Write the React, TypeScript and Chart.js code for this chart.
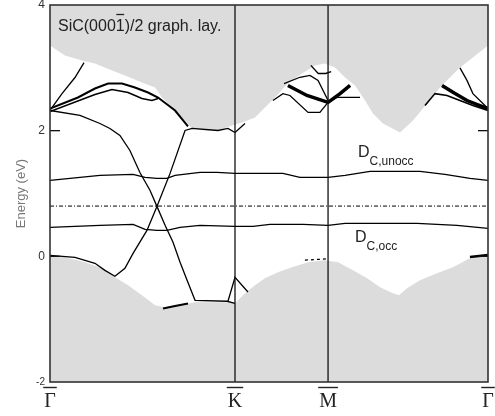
import React, { useEffect, useRef } from 'react';
import { Chart, registerables } from 'chart.js';
Chart.register(...registerables);

// k-path positions (Γ, K, M, Γ) and labels
const pointLabels = ['Γ', 'K', 'M', 'Γ'];
const pointPos = [0, 1.0, 1.503, 2.3676];
const yTicks = [4, 2, 0, -2];
const fermiLevel = 0.8;

// projected bulk bands (grey)
const upperEdge: [number, number][] = [
  [0, 3.355], [0.081, 3.196], [0.173, 3.116], [0.243, 3.068], [0.335, 2.957], [0.405, 2.878],
  [0.497, 2.766], [0.568, 2.687], [0.605, 2.528], [0.676, 2.321], [0.73, 2.162], [0.768, 2.035],
  [0.838, 2.003], [0.908, 2.003], [0.984, 2.083], [1.038, 2.13], [1.108, 2.21], [1.162, 2.369],
  [1.216, 2.528], [1.286, 2.75], [1.362, 2.909], [1.432, 3.037], [1.486, 3.068], [1.541, 3.005],
  [1.595, 2.846], [1.649, 2.719], [1.703, 2.48], [1.746, 2.273], [1.8, 2.114], [1.892, 1.971],
  [1.962, 2.162], [2.016, 2.353], [2.108, 2.687], [2.216, 3.005], [2.286, 3.164], [2.3676, 3.355],
];
const lowerEdge: [number, number][] = [
  [0, 0.016], [0.081, -0.016], [0.189, -0.095], [0.281, -0.191], [0.351, -0.334], [0.422, -0.461],
  [0.497, -0.62], [0.568, -0.779], [0.622, -0.811], [0.692, -0.779], [0.784, -0.731], [0.946, -0.731],
  [1.0, -0.747], [1.054, -0.588], [1.108, -0.461], [1.162, -0.35], [1.232, -0.254], [1.308, -0.175],
  [1.395, -0.095], [1.486, -0.064], [1.557, -0.095], [1.638, -0.223], [1.714, -0.35], [1.784, -0.493],
  [1.854, -0.588], [1.886, -0.62], [1.93, -0.509], [2.0, -0.382], [2.092, -0.27], [2.178, -0.175],
  [2.27, -0.032], [2.3676, 0.016],
];

// surface bands
const dUnocc: [number, number][] = [
  [0, 1.208], [0.27, 1.288], [0.449, 1.304], [0.514, 1.256], [0.578, 1.24], [0.632, 1.24],
  [0.676, 1.288], [0.811, 1.335], [0.903, 1.335], [1.0, 1.32], [1.259, 1.32], [1.351, 1.256],
  [1.503, 1.256], [1.595, 1.288], [1.73, 1.351], [2.0, 1.351], [2.135, 1.304], [2.27, 1.24], [2.3676, 1.208],
];
const dOcc: [number, number][] = [
  [0, 0.461], [0.27, 0.493], [0.449, 0.509], [0.514, 0.429], [0.578, 0.413], [0.632, 0.413],
  [0.703, 0.461], [0.811, 0.493], [1.0, 0.477], [1.097, 0.477], [1.189, 0.509], [1.368, 0.509],
  [1.503, 0.493], [1.595, 0.525], [1.984, 0.525], [2.2, 0.493], [2.3676, 0.445],
];
const coneA: [number, number][] = [
  [0, 2.321], [0.162, 2.242], [0.27, 2.114], [0.324, 2.035], [0.378, 1.924], [0.432, 1.685],
  [0.486, 1.335], [0.541, 1.049], [0.578, 0.795], [0.622, 0.493], [0.665, 0.223], [0.703, -0.095],
  [0.741, -0.382], [0.784, -0.7], [0.957, -0.715], [1.0, -0.747],
];
const coneB: [number, number][] = [
  [0, 0.016], [0.135, -0.016], [0.243, -0.111], [0.297, -0.223], [0.351, -0.318], [0.405, -0.191],
  [0.449, 0.048], [0.524, 0.413], [0.578, 0.795], [0.649, 1.32], [0.73, 2.003], [0.768, 2.035],
  [0.908, 2.003], [0.962, 2.035], [1.0, 1.971], [1.054, 2.114],
];
const bandC: [number, number][] = [[0, 2.321], [0.065, 2.591], [0.135, 2.846], [0.184, 3.084]];
const bandD1: [number, number][] = [
  [0, 2.353], [0.151, 2.528], [0.243, 2.671], [0.314, 2.75], [0.389, 2.75], [0.459, 2.687],
  [0.53, 2.607], [0.584, 2.528], [0.676, 2.321], [0.746, 2.067],
];
const bandD2: [number, number][] = [
  [0, 2.305], [0.243, 2.575], [0.335, 2.655], [0.422, 2.607], [0.497, 2.512], [0.551, 2.48], [0.584, 2.512],
];
const bandF: [number, number][] = [[1.41, 3.04], [1.45, 2.91], [1.49, 2.91], [1.52, 2.94]];
const bandG: [number, number][] = [[1.265, 2.75], [1.351, 2.85], [1.405, 2.88], [1.449, 2.8], [1.503, 2.48]];
const bandH: [number, number][] = [[1.286, 2.72], [1.389, 2.56], [1.503, 2.45], [1.568, 2.59], [1.622, 2.72]];
const bandI: [number, number][] = [[1.205, 2.48], [1.259, 2.59], [1.297, 2.56], [1.395, 2.29], [1.459, 2.29], [1.503, 2.45]];
const bandN: [number, number][] = [[1.503, 2.45], [1.551, 2.53], [1.676, 2.53]];
const bandJ: [number, number][] = [[2.119, 2.72], [2.178, 2.61], [2.254, 2.48], [2.324, 2.4], [2.3676, 2.35]];
const bandK: [number, number][] = [[2.027, 2.4], [2.081, 2.59], [2.146, 2.56], [2.216, 2.48], [2.286, 2.4], [2.3676, 2.32]];
const bandL: [number, number][] = [[2.216, 3.0], [2.254, 2.8], [2.286, 2.59], [2.362, 2.37]];
const bandKTri: [number, number][] = [[0.962, -0.715], [1.0, -0.334], [1.07, -0.568]];
const bandKLow: [number, number][] = [[0.611, -0.83], [0.676, -0.79], [0.746, -0.75]];
const bandMLow: [number, number][] = [[1.378, -0.06], [1.503, -0.04]];
const bandGLow: [number, number][] = [[2.27, -0.01], [2.3676, 0.02]];

const SANS = '"Liberation Sans", Arial, Helvetica, sans-serif';
const SERIF = '"Liberation Serif", "Times New Roman", serif';

const toXY = (pts: [number, number][]) => pts.map(([x, y]) => ({ x, y }));
const band = (pts: [number, number][], w = 1.3, extra: any = {}) => ({
  data: toXY(pts),
  borderColor: '#000',
  borderWidth: w,
  pointRadius: 0,
  fill: false,
  tension: 0,
  order: 1,
  ...extra,
});

const decorPlugin = {
  id: 'decor',
  afterDatasetsDraw(chart: any) {
    const { ctx, chartArea: ca, scales } = chart;
    const xs = scales.x;
    const ys = scales.y;
    ctx.save();
    const line = (x1: number, y1: number, x2: number, y2: number) => {
      ctx.beginPath();
      ctx.moveTo(x1, y1);
      ctx.lineTo(x2, y2);
      ctx.stroke();
    };
    // high-symmetry verticals
    ctx.strokeStyle = '#111';
    ctx.lineWidth = 1.3;
    [pointPos[1], pointPos[2]].forEach((p) => {
      const px = xs.getPixelForValue(p);
      line(px, ca.top, px, ca.bottom);
    });
    // inner tick marks
    ctx.lineWidth = 1.3;
    [2, 0].forEach((v) => {
      const py = ys.getPixelForValue(v);
      line(ca.left, py, ca.left + 10, py);
      line(ca.right - 10, py, ca.right, py);
    });
    // frame
    ctx.strokeStyle = '#333';
    ctx.lineWidth = 1.6;
    ctx.strokeRect(ca.left, ca.top, ca.right - ca.left, ca.bottom - ca.top);

    // x labels with overline
    ctx.fillStyle = '#222';
    ctx.font = '20px ' + SERIF;
    ctx.textAlign = 'center';
    ctx.textBaseline = 'alphabetic';
    ctx.lineWidth = 1.4;
    ctx.strokeStyle = '#222';
    pointLabels.forEach((lab, i) => {
      const px = xs.getPixelForValue(pointPos[i]);
      ctx.fillText(lab, px, 407);
      const w = ctx.measureText(lab).width;
      line(px - w / 2 - 1, 387.5, px + w / 2 + 1, 387.5);
    });

    // panel title with overlined 1
    ctx.textAlign = 'left';
    ctx.font = '16px ' + SANS;
    ctx.fillStyle = '#222';
    let tx = 58;
    const ty = 31;
    const p1 = 'SiC(000';
    const p2 = '1';
    const p3 = ')/2 graph. lay.';
    ctx.fillText(p1, tx, ty);
    tx += ctx.measureText(p1).width;
    ctx.fillText(p2, tx, ty);
    const w2 = ctx.measureText(p2).width;
    ctx.lineWidth = 1.3;
    line(tx + 0.5, 14.5, tx + w2 - 0.5, 14.5);
    tx += w2;
    ctx.fillText(p3, tx, ty);

    // D labels
    const dLabel = (x: number, y: number, sub: string) => {
      ctx.font = '16px ' + SANS;
      ctx.fillText('D', x, y);
      const wd = ctx.measureText('D').width;
      ctx.font = '12px ' + SANS;
      ctx.fillText(sub, x + wd, y + 8);
    };
    dLabel(358, 157, 'C,unocc');
    dLabel(355, 242, 'C,occ');
    ctx.restore();
  },
};

export default function App() {
  const ref = useRef<HTMLCanvasElement | null>(null);
  useEffect(() => {
    if (!ref.current) return;
    const grey = '#dcdcdc';
    const chart = new Chart(ref.current, {
      type: 'line',
      data: {
        datasets: [
          band(dUnocc),
          band(dOcc),
          band(
            [
              [0, fermiLevel],
              [pointPos[3], fermiLevel],
            ],
            1,
            { borderDash: [4, 2, 1, 2] }
          ),
          band(coneA),
          band(coneB),
          band(bandC),
          band(bandD1, 2),
          band(bandD2, 1.6),
          band(bandF),
          band(bandG),
          band(bandH, 3.5),
          band(bandI),
          band(bandN),
          band(bandJ, 3.5),
          band(bandK, 1.6),
          band(bandL),
          band(bandKTri),
          band(bandKLow, 2),
          band(bandMLow, 1.3, { borderDash: [3, 3] }),
          band(bandGLow, 2.5),
          {
            data: toXY(upperEdge),
            borderColor: 'rgba(0,0,0,0)',
            borderWidth: 0,
            backgroundColor: grey,
            pointRadius: 0,
            fill: 'end',
            order: 10,
          },
          {
            data: toXY(lowerEdge),
            borderColor: 'rgba(0,0,0,0)',
            borderWidth: 0,
            backgroundColor: grey,
            pointRadius: 0,
            fill: 'start',
            order: 10,
          },
        ] as any,
      },
      options: {
        responsive: false,
        animation: false,
        devicePixelRatio: 1,
        layout: { padding: { top: 5, right: 7, left: 0, bottom: 0 } },
        plugins: {
          legend: { display: false },
          tooltip: { enabled: false },
          filler: { drawTime: 'beforeDatasetsDraw' },
        } as any,
        scales: {
          x: {
            type: 'linear',
            min: 0,
            max: pointPos[3],
            grid: { display: false, drawTicks: false },
            border: { display: false },
            ticks: { display: false },
            afterFit: (s: any) => {
              s.height = 34;
              s.paddingLeft = 0;
              s.paddingRight = 0;
            },
          },
          y: {
            type: 'linear',
            min: -2,
            max: 4,
            afterBuildTicks: (s: any) => {
              s.ticks = yTicks.map((v) => ({ value: v }));
            },
            ticks: {
              color: '#333',
              padding: 5,
              autoSkip: false,
              font: (c: any) => ({ family: SANS, size: c.tick && c.tick.value === -2 ? 10 : 12 }),
            },
            grid: { display: false, drawTicks: false },
            border: { display: false },
            title: {
              display: true,
              text: 'Energy (eV)',
              color: '#777',
              font: { family: SANS, size: 13 },
              padding: { top: 14, bottom: 0 },
            },
            afterFit: (s: any) => {
              s.width = 50;
              s.paddingTop = 0;
              s.paddingBottom = 0;
            },
          },
        },
      } as any,
      plugins: [decorPlugin],
    });
    return () => chart.destroy();
  }, []);
  return (
    <div style={{ position: 'fixed', left: 0, top: 0, width: 495, height: 416, background: '#fff' }}>
      <canvas ref={ref} width={495} height={416} style={{ width: 495, height: 416, display: 'block' }} />
    </div>
  );
}
